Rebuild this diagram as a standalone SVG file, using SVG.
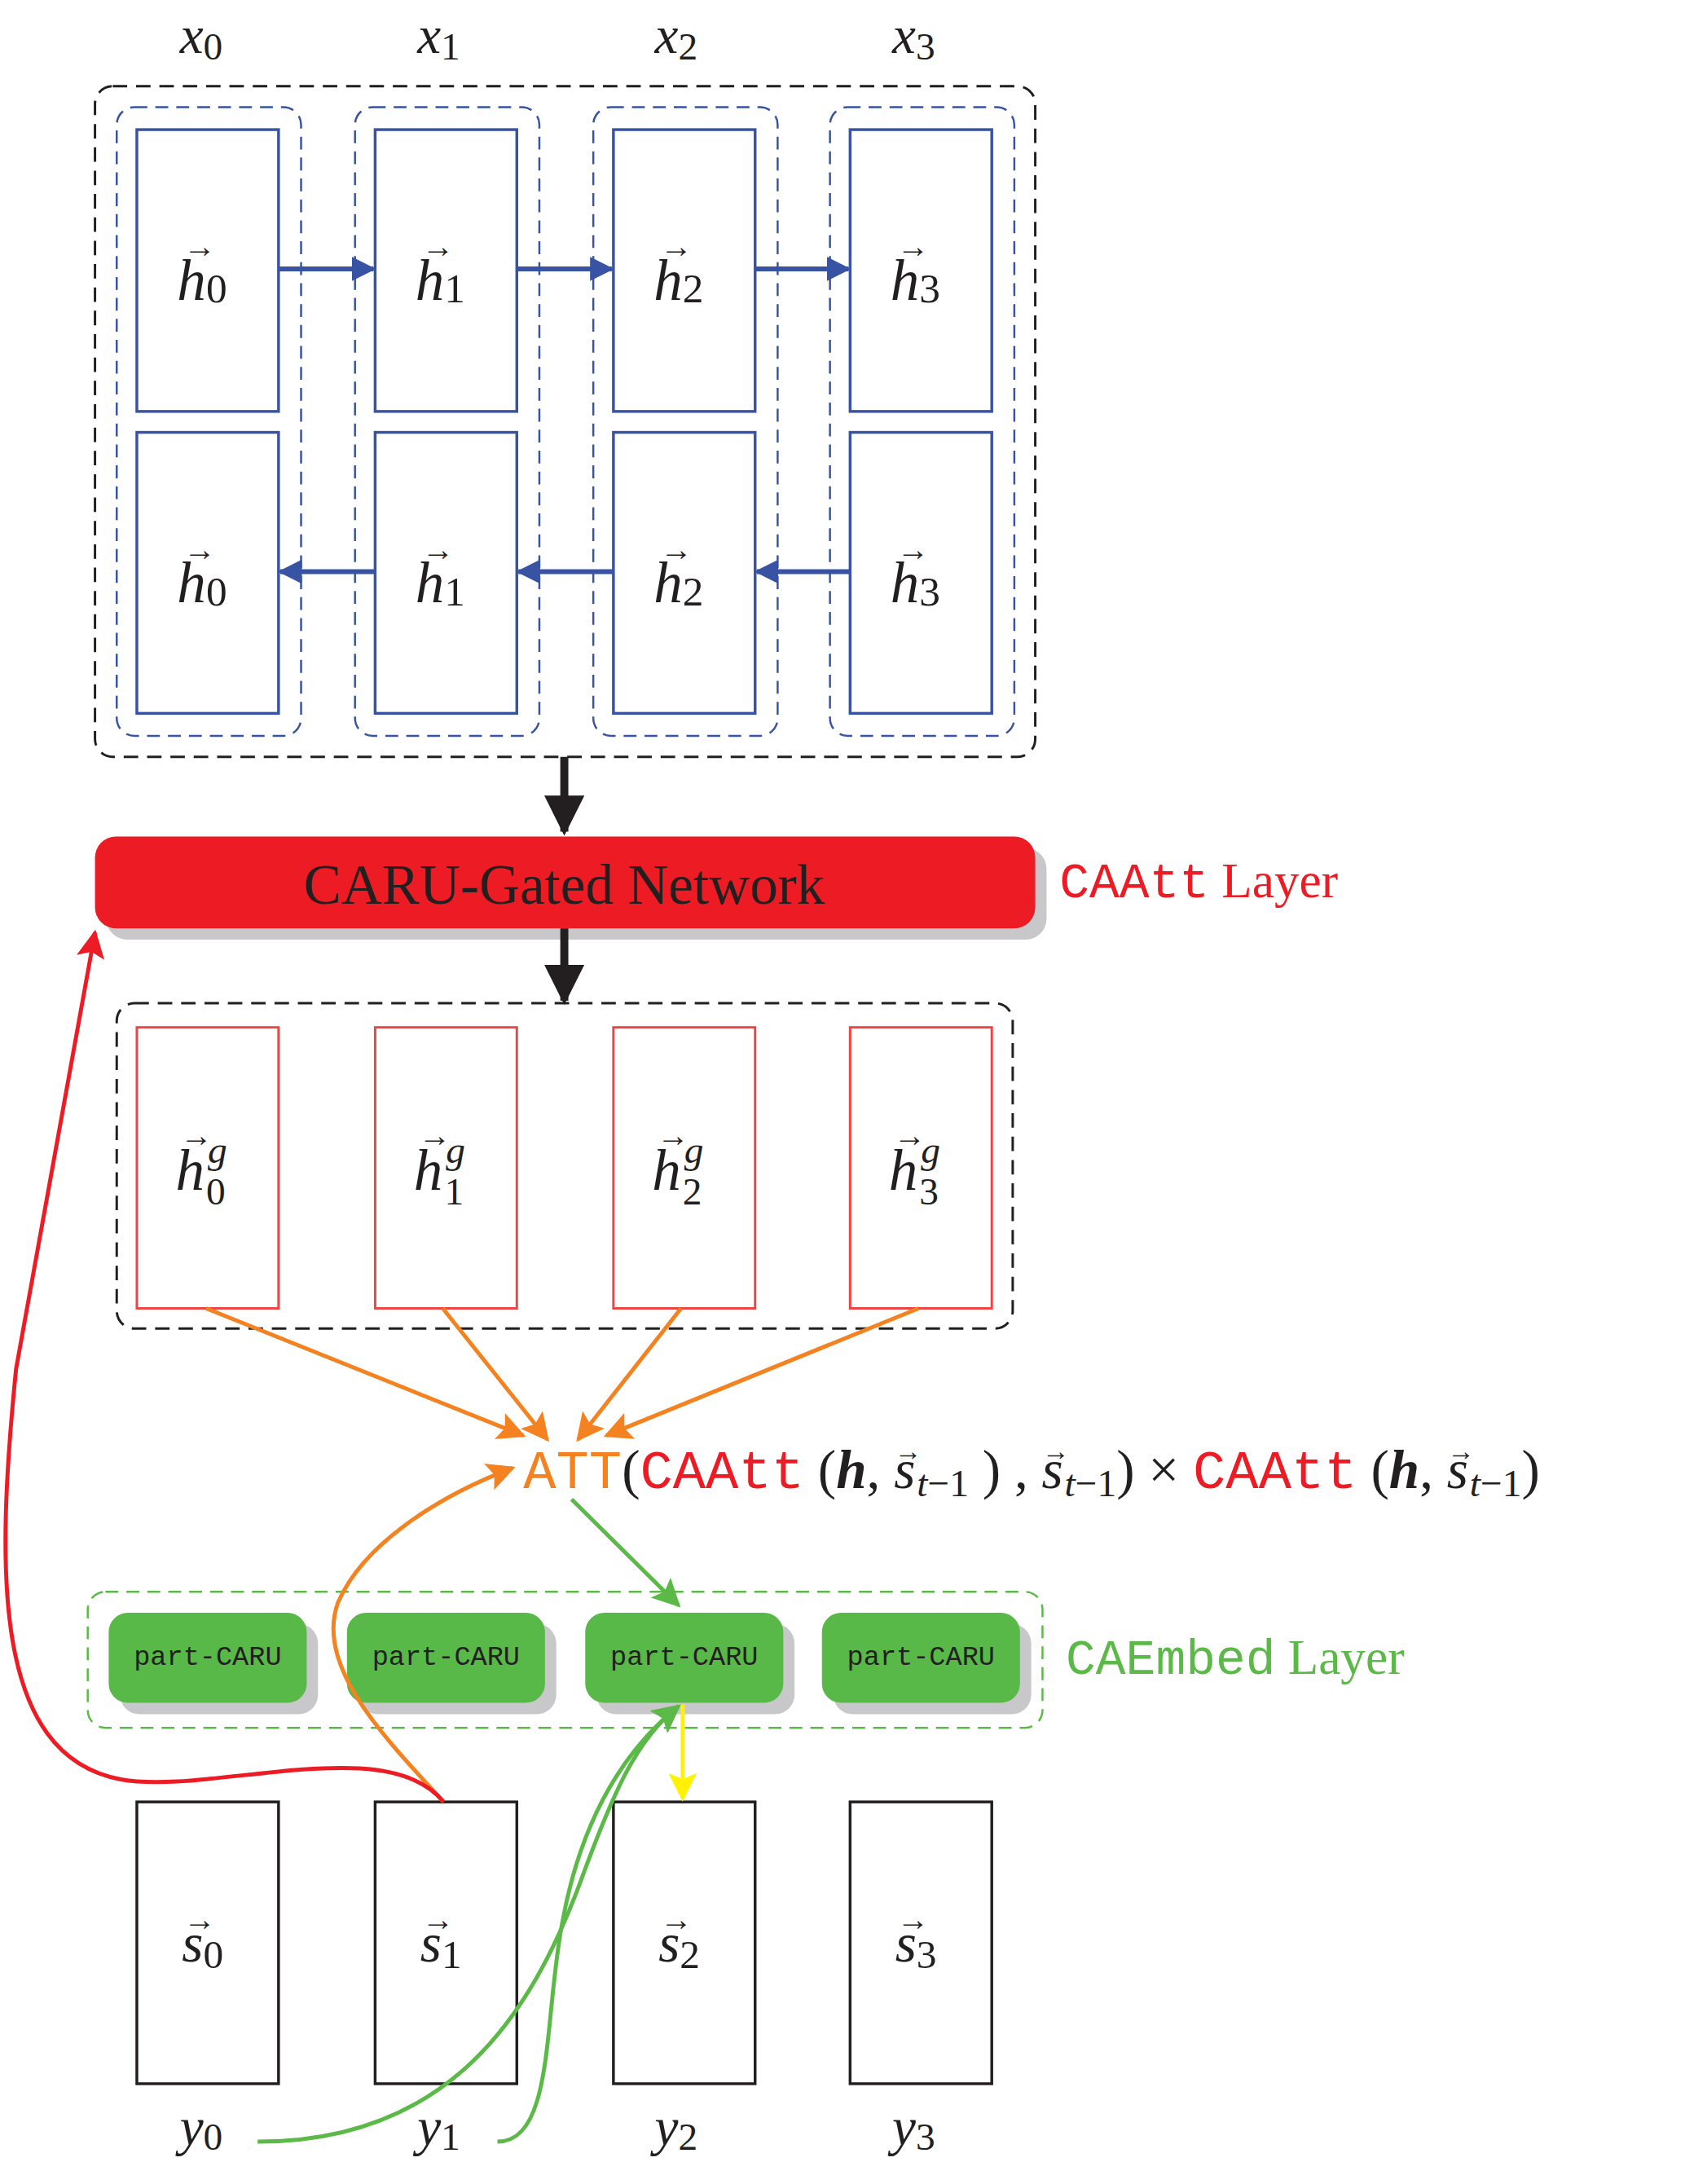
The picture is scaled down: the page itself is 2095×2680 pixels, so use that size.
<svg xmlns="http://www.w3.org/2000/svg" width="2095" height="2680" viewBox="0 0 2095 2680">
<defs>
<style>
.m{font-family:"Liberation Serif",serif;font-style:italic;fill:#231f20}
.r{font-family:"Liberation Serif",serif;fill:#231f20}
.mono{font-family:"Liberation Mono",monospace}
.blue{fill:#fff;stroke:#3953a4;stroke-width:3.5}
.bd{fill:none;stroke:#3953a4;stroke-width:2.5;stroke-dasharray:16 10}
.kd{fill:none;stroke:#231f20;stroke-width:3;stroke-dasharray:18 11}
.redb{fill:#fff;stroke:#ef4444;stroke-width:3}
.blk{fill:#fff;stroke:#231f20;stroke-width:3.5}
.pc{fill:#58b848}
.sh{fill:#c8c8ca}
</style>
<marker id="ab" viewBox="0 0 10 10" refX="9" refY="5" markerWidth="5" markerHeight="5" orient="auto"><path d="M0,0 L10,5 L0,10 z" fill="#3953a4"/></marker>
<marker id="ak" viewBox="0 0 10 10" refX="9" refY="5" markerWidth="5" markerHeight="5" orient="auto"><path d="M0,0 L10,5 L0,10 z" fill="#231f20"/></marker>
<marker id="ao" viewBox="0 0 10 10" refX="9" refY="5" markerWidth="7" markerHeight="7" orient="auto"><path d="M0,0 L10,5 L0,10 L2,5 z" fill="#f58220"/></marker>
<marker id="ag" viewBox="0 0 10 10" refX="9" refY="5" markerWidth="7" markerHeight="7" orient="auto"><path d="M0,0 L10,5 L0,10 L2,5 z" fill="#5bb947"/></marker>
<marker id="ar" viewBox="0 0 10 10" refX="9" refY="5" markerWidth="7" markerHeight="7" orient="auto"><path d="M0,0 L10,5 L0,10 L2,5 z" fill="#ed1c24"/></marker>
<marker id="ay" viewBox="0 0 10 10" refX="9" refY="5" markerWidth="7" markerHeight="7" orient="auto"><path d="M0,0 L10,5 L0,10 L2,5 z" fill="#fff200"/></marker>
</defs>
<rect width="2095" height="2680" fill="#fff"/>
<g transform="scale(0.988)">
<g id="xlabels" class="m" font-size="66" text-anchor="middle">
<text x="250" y="66">x<tspan font-style="normal" font-size="48" dy="8">0</tspan></text>
<text x="545" y="66">x<tspan font-style="normal" font-size="48" dy="8">1</tspan></text>
<text x="840" y="66">x<tspan font-style="normal" font-size="48" dy="8">2</tspan></text>
<text x="1135" y="66">x<tspan font-style="normal" font-size="48" dy="8">3</tspan></text>
</g>

<g id="encoder">
<rect class="kd" x="118" y="107" width="1168" height="833" rx="22"/>
<rect class="bd" x="145" y="133" width="229" height="781" rx="22"/>
<rect class="bd" x="441" y="133" width="229" height="781" rx="22"/>
<rect class="bd" x="737" y="133" width="229" height="781" rx="22"/>
<rect class="bd" x="1031" y="133" width="229" height="781" rx="22"/>
<rect class="blue" x="170" y="161" width="176" height="350"/>
<rect class="blue" x="466" y="161" width="176" height="350"/>
<rect class="blue" x="762" y="161" width="176" height="350"/>
<rect class="blue" x="1056" y="161" width="176" height="350"/>
<rect class="blue" x="170" y="537" width="176" height="349"/>
<rect class="blue" x="466" y="537" width="176" height="349"/>
<rect class="blue" x="762" y="537" width="176" height="349"/>
<rect class="blue" x="1056" y="537" width="176" height="349"/>
<g class="m" font-size="72">
<text x="220" y="372">h<tspan font-style="normal" font-size="52" dy="4">0</tspan></text>
<text x="516" y="372">h<tspan font-style="normal" font-size="52" dy="4">1</tspan></text>
<text x="812" y="372">h<tspan font-style="normal" font-size="52" dy="4">2</tspan></text>
<text x="1106" y="372">h<tspan font-style="normal" font-size="52" dy="4">3</tspan></text>
<text x="220" y="748">h<tspan font-style="normal" font-size="52" dy="4">0</tspan></text>
<text x="516" y="748">h<tspan font-style="normal" font-size="52" dy="4">1</tspan></text>
<text x="812" y="748">h<tspan font-style="normal" font-size="52" dy="4">2</tspan></text>
<text x="1106" y="748">h<tspan font-style="normal" font-size="52" dy="4">3</tspan></text>
</g>
<g class="r" font-size="40">
<text x="228" y="320">→</text><text x="524" y="320">→</text><text x="820" y="320">→</text><text x="1114" y="320">→</text>
<text x="228" y="696">→</text><text x="524" y="696">→</text><text x="820" y="696">→</text><text x="1114" y="696">→</text>
</g>
</g>

<g id="caru-gated">
<rect class="sh" x="132" y="1053" width="1168" height="114" rx="26"/>
<rect x="118" y="1039" width="1168" height="114" rx="26" fill="#ed1c24"/>
<text class="r" x="701" y="1122" font-size="70" text-anchor="middle">CARU-Gated Network</text>
<text x="1316" y="1114" font-size="62" fill="#ed1c24"><tspan class="mono">CAAtt</tspan><tspan font-family="Liberation Serif,serif"> Layer</tspan></text>
</g>

<g id="gated">
<rect class="kd" x="145" y="1246" width="1113" height="404" rx="22"/>
<rect class="redb" x="170" y="1276" width="176" height="349"/>
<rect class="redb" x="466" y="1276" width="176" height="349"/>
<rect class="redb" x="762" y="1276" width="176" height="349"/>
<rect class="redb" x="1056" y="1276" width="176" height="349"/>
<g class="m" font-size="72">
<text x="218" y="1478">h</text><text x="514" y="1478">h</text><text x="810" y="1478">h</text><text x="1104" y="1478">h</text>
</g>
<g class="m" font-size="48"><text x="258" y="1444">g</text><text x="554" y="1444">g</text><text x="850" y="1444">g</text><text x="1144" y="1444">g</text></g>
<g class="r" font-size="48"><text x="256" y="1496">0</text><text x="552" y="1496">1</text><text x="848" y="1496">2</text><text x="1142" y="1496">3</text></g>
<g class="r" font-size="40"><text x="224" y="1424">→</text><text x="520" y="1424">→</text><text x="816" y="1424">→</text><text x="1110" y="1424">→</text></g>
</g>

<g id="formula" font-size="68">
<text x="650" y="1848"><tspan class="mono" fill="#f58220">ATT</tspan><tspan class="r">(</tspan><tspan class="mono" fill="#ed1c24">CAAtt</tspan><tspan class="r"> (</tspan><tspan class="m" font-weight="bold">h</tspan><tspan class="r">, </tspan><tspan class="m">s</tspan><tspan class="r" font-size="34" dx="-26" dy="-34">→</tspan><tspan class="m" font-size="48" dx="-6" dy="44">t</tspan><tspan class="r" font-size="48">−1</tspan><tspan class="r" dy="-10"> ) , </tspan><tspan class="m">s</tspan><tspan class="r" font-size="34" dx="-26" dy="-34">→</tspan><tspan class="m" font-size="48" dx="-6" dy="44">t</tspan><tspan class="r" font-size="48">−1</tspan><tspan class="r" dy="-10">) × </tspan><tspan class="mono" fill="#ed1c24">CAAtt</tspan><tspan class="r"> (</tspan><tspan class="m" font-weight="bold">h</tspan><tspan class="r">, </tspan><tspan class="m">s</tspan><tspan class="r" font-size="34" dx="-26" dy="-34">→</tspan><tspan class="m" font-size="48" dx="-6" dy="44">t</tspan><tspan class="r" font-size="48">−1</tspan><tspan class="r" dy="-10">)</tspan></text>
</g>

<g id="caembed">
<rect fill="none" stroke="#5bb947" stroke-width="2.5" stroke-dasharray="16 10" x="109" y="1977" width="1186" height="169" rx="22"/>
<rect class="sh" x="149" y="2017" width="246" height="112" rx="24"/>
<rect class="sh" x="445" y="2017" width="246" height="112" rx="24"/>
<rect class="sh" x="741" y="2017" width="246" height="112" rx="24"/>
<rect class="sh" x="1035" y="2017" width="246" height="112" rx="24"/>
<rect class="pc" x="135" y="2003" width="246" height="112" rx="24"/>
<rect class="pc" x="431" y="2003" width="246" height="112" rx="24"/>
<rect class="pc" x="727" y="2003" width="246" height="112" rx="24"/>
<rect class="pc" x="1021" y="2003" width="246" height="112" rx="24"/>
<g class="mono" font-size="34" fill="#231f20" text-anchor="middle">
<text x="258" y="2068">part-CARU</text><text x="554" y="2068">part-CARU</text><text x="850" y="2068">part-CARU</text><text x="1144" y="2068">part-CARU</text>
</g>
<text x="1324" y="2079" font-size="62" fill="#5bb947"><tspan class="mono">CAEmbed</tspan><tspan font-family="Liberation Serif,serif"> Layer</tspan></text>
</g>

<g id="states">
<rect class="blk" x="170" y="2238" width="176" height="350"/>
<rect class="blk" x="466" y="2238" width="176" height="350"/>
<rect class="blk" x="762" y="2238" width="176" height="350"/>
<rect class="blk" x="1056" y="2238" width="176" height="350"/>
<g class="m" font-size="68">
<text x="226" y="2436">s<tspan font-style="normal" font-size="50" dy="8">0</tspan></text>
<text x="522" y="2436">s<tspan font-style="normal" font-size="50" dy="8">1</tspan></text>
<text x="818" y="2436">s<tspan font-style="normal" font-size="50" dy="8">2</tspan></text>
<text x="1112" y="2436">s<tspan font-style="normal" font-size="50" dy="8">3</tspan></text>
</g>
<g class="r" font-size="40"><text x="228" y="2398">→</text><text x="524" y="2398">→</text><text x="820" y="2398">→</text><text x="1114" y="2398">→</text></g>
<g class="m" font-size="66" text-anchor="middle">
<text x="250" y="2664">y<tspan font-style="normal" font-size="48" dy="6">0</tspan></text>
<text x="545" y="2664">y<tspan font-style="normal" font-size="48" dy="6">1</tspan></text>
<text x="840" y="2664">y<tspan font-style="normal" font-size="48" dy="6">2</tspan></text>
<text x="1135" y="2664">y<tspan font-style="normal" font-size="48" dy="6">3</tspan></text>
</g>
</g>

<g id="connectors" fill="none">
<g stroke="#3953a4" stroke-width="6" marker-end="url(#ab)">
<path d="M346,334 H464"/><path d="M642,334 H760"/><path d="M938,334 H1054"/>
<path d="M466,710 H348"/><path d="M762,710 H644"/><path d="M1056,710 H940"/>
</g>
<g stroke="#231f20" stroke-width="10" marker-end="url(#ak)">
<path d="M701,940 V1033"/><path d="M701,1153 V1243"/>
</g>
<g stroke="#f58220" stroke-width="5" marker-end="url(#ao)">
<path d="M256,1625 L650,1783"/><path d="M550,1625 L680,1788"/><path d="M846,1625 L718,1788"/><path d="M1141,1625 L753,1783"/>
<path d="M551,2238 C480,2160 390,2070 420,1990 C450,1920 540,1860 637,1823"/>
</g>
<path d="M710,1862 L843,1994" stroke="#5bb947" stroke-width="5" marker-end="url(#ag)"/>
<path d="M848,2117 V2234" stroke="#fff200" stroke-width="5" marker-end="url(#ay)"/>
<path d="M551,2238 C480,2150 260,2230 150,2210 C-10,2180 -5,1950 20,1700 L118,1158" stroke="#ed1c24" stroke-width="5" marker-end="url(#ar)"/>
<g stroke="#5bb947" stroke-width="5" marker-end="url(#ag)">
<path d="M320,2660 C560,2660 660,2500 720,2340 C760,2230 790,2160 843,2119"/>
<path d="M618,2660 C690,2660 675,2500 700,2380 C725,2250 780,2170 843,2119"/>
</g>
</g>
</g>
</svg>
